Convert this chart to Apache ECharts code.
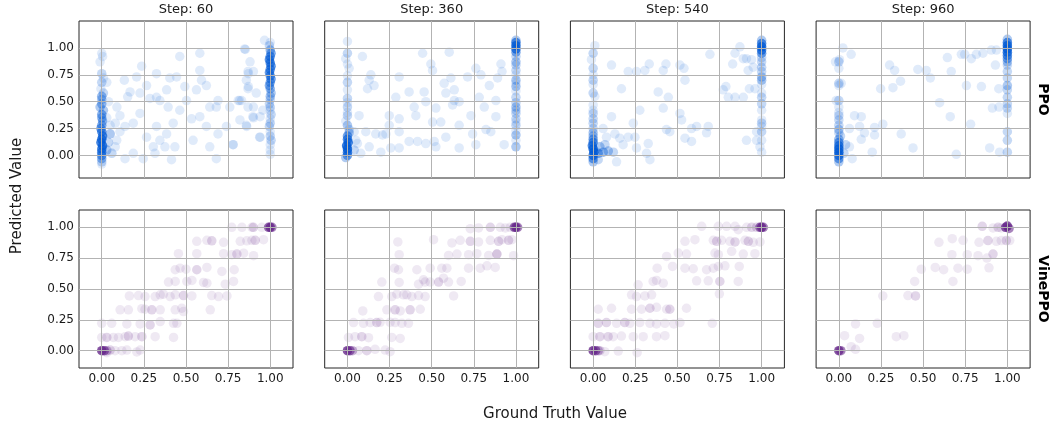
<!DOCTYPE html>
<html><head><meta charset="utf-8">
<script src="https://cdn.jsdelivr.net/npm/echarts@6/dist/echarts.min.js"></script>
<style>html,body{margin:0;padding:0;background:#fff}#c{width:1053px;height:429px}</style>
</head><body><div id="c"></div>
<script>
// ---- data: [groundTruth, predicted, multiplicity] ----
const stepTitles = ['Step: 60', 'Step: 360', 'Step: 540', 'Step: 960'];
const rowLabels = ['PPO', 'VinePPO'];
const xTicks = [0, 0.25, 0.5, 0.75, 1];
const yTicks = [0, 0.25, 0.5, 0.75, 1];

const ppo60 = [
 [0,0.95,1],[0.005,0.92,1],[-0.01,0.87,1],[0,0.76,2],[0.01,0.72,1],[0,0.68,2],[-0.005,0.62,1],[0.01,0.58,2],[0,0.55,4],[0,0.52,3],
 [0,0.48,4],[-0.01,0.45,3],[0.01,0.42,3],[0,0.38,5],[0,0.35,4],[0.005,0.32,4],[0,0.28,5],[-0.005,0.25,6],[0,0.22,8],[0.005,0.18,9],
 [0,0.15,10],[-0.005,0.12,10],[0.005,0.09,10],[0,0.06,9],[0,0.03,8],[0,0.0,6],[0,-0.03,4],[0,-0.06,2],[0,-0.08,1],
 [0.03,0.05,3],[0.04,0.12,2],[0.05,0.2,2],[0.06,0.02,2],[0.08,0.08,1],[0.05,0.28,1],[0.03,0.35,1],[0.04,0.5,1],[0.03,0.68,1],
 [0.237,0.83,1],[0.134,0.70,1],[0.207,0.73,1],[0.168,0.59,1],[0.154,0.545,1],[0.09,0.45,1],[0.108,0.37,1],[0.08,0.30,1],[0.138,0.27,1],
 [0.187,0.30,1],[0.227,0.39,1],[0.286,0.53,1],[0.325,0.76,1],[0.385,0.61,1],[0.404,0.72,1],[0.463,0.92,1],[0.444,0.73,1],[0.493,0.64,1],
 [0.503,0.51,1],[0.463,0.42,1],[0.424,0.30,1],[0.385,0.20,1],[0.345,0.14,1],[0.306,0.08,1],[0.266,0.17,1],[0.325,0.27,1],[0.375,0.08,1],
 [0.414,-0.04,1],[0.434,0.08,1],[0.542,0.14,1],[0.582,0.95,1],[0.582,0.79,1],[0.592,0.70,1],[0.562,0.61,1],[0.621,0.65,1],[0.582,0.36,1],
 [0.533,0.34,1],[0.641,0.45,1],[0.621,0.27,1],[0.68,0.45,1],[0.69,0.20,1],[0.69,0.51,1],[0.76,0.45,1],[0.74,0.27,1],[0.779,0.10,1],
 [0.68,-0.03,1],[0.641,0.08,1],[0.848,0.99,1],[0.868,0.78,1],[0.858,0.70,1],[0.868,0.62,1],[0.818,0.51,1],[0.868,0.45,1],[0.897,0.36,1],
 [0.858,0.28,1],[0.937,0.17,1],[0.917,0.58,1],[0.956,0.42,1],[0.966,1.07,1],[0.246,-0.03,1],[0.138,-0.03,1],[0.187,0.02,1],[0.316,0.02,1],
 [0.325,0.54,1],[0.227,0.58,1],[0.266,0.65,1],[0.345,0.51,1],[0.394,0.45,1],[0.089,0.14,1],[0.108,0.22,1],[0.05,0.2,1],
 [0.852,0.985,1],[0.88,0.87,1],[0.87,0.76,1],[0.9,0.78,1],[0.87,0.64,1],[0.81,0.51,1],[0.83,0.51,1],[0.90,0.45,1],[0.9,0.35,1],
 [0.82,0.33,1],[0.86,0.27,1],[0.94,0.17,1],[0.78,0.10,1],[0.94,0.36,1],
 [1,1.05,1],[0.995,1.02,2],[1,0.98,4],[1.005,0.95,5],[1,0.92,7],[0.995,0.89,8],[1,0.86,8],[1.005,0.83,7],[1,0.80,7],[0.995,0.77,7],
 [1,0.74,7],[1.005,0.71,6],[1,0.68,5],[0.995,0.65,5],[1,0.62,4],[1.005,0.58,3],[1,0.55,3],[1,0.52,2],[0.995,0.48,2],[1,0.45,2],
 [1,0.42,1],[1.005,0.38,2],[1,0.34,1],[1,0.30,2],[0.995,0.27,2],[1,0.22,1],[1,0.18,2],[1.005,0.14,2],[1,0.10,1],[1,0.05,1],[1,0.01,1]
];

const ppo360 = [
 [0,0.0,6],[0,0.03,9],[0,0.06,12],[-0.005,0.09,12],[0.005,0.12,10],[0,0.15,8],[0,0.18,6],[0.01,0.21,3],[-0.01,-0.02,3],
 [0,1.06,1],[0,0.95,2],[-0.01,0.9,1],[0,0.85,1],[0.01,0.81,1],[0,0.74,1],[0,0.68,2],[0,0.61,1],[0,0.53,2],[0,0.49,1],[0,0.45,2],
 [0,0.40,1],[0,0.37,2],[-0.01,0.32,1],[0,0.28,3],[0.01,0.24,2],
 [1,1.07,3],[1,1.05,8],[1,1.02,12],[1,0.99,10],[1,0.96,5],
 [1,0.92,2],[1,0.87,3],[1,0.84,2],[1,0.79,2],[1,0.75,1],[1,0.70,3],[1,0.67,1],[1,0.64,3],[1,0.6,1],[1,0.54,2],[1,0.49,2],[1,0.45,3],
 [1,0.42,2],[1,0.39,2],[1,0.34,2],[1,0.31,1],[1,0.28,2],[1,0.23,1],[1,0.19,3],[1,0.14,1],[1,0.08,3],
 [0.089,0.92,1],[0.129,0.70,1],[0.158,0.65,1],[0.139,0.75,1],[0.119,0.62,1],[0.307,0.73,1],[0.287,0.54,1],[0.248,0.37,1],[0.307,0.34,1],
 [0.366,0.59,1],[0.396,0.45,1],[0.406,0.37,1],[0.446,0.95,1],[0.455,0.59,1],[0.495,0.85,1],[0.505,0.79,1],[0.465,0.50,1],[0.505,0.31,1],
 [0.525,0.44,1],[0.554,0.31,1],[0.574,0.67,1],[0.584,0.58,1],[0.604,0.96,1],[0.614,0.72,1],[0.634,0.61,1],[0.634,0.51,1],[0.663,0.50,1],
 [0.624,0.47,1],[0.713,0.73,1],[0.733,0.37,1],[0.663,0.28,1],[0.743,0.20,1],[0.762,0.81,1],[0.792,0.75,1],[0.782,0.54,1],[0.812,0.45,1],
 [0.822,0.24,1],[0.851,0.22,1],[0.842,0.65,1],[0.881,0.51,1],[0.881,0.36,1],[0.891,0.72,1],[0.911,0.85,1],[0.917,0.78,1],[0.93,0.10,1],
 [0.04,0.22,1],[0.069,0.37,1],[0.059,0.11,1],[0.109,0.22,1],[0.129,0.08,1],[0.079,0.02,1],[0.168,0.20,1],[0.208,0.19,1],[0.228,0.20,1],
 [0.198,0.03,1],[0.248,0.28,1],[0.257,0.07,1],[0.307,0.07,1],[0.307,0.22,1],[0.366,0.13,1],[0.416,0.13,1],[0.465,0.11,1],[0.515,0.13,1],
 [0.525,0.08,1],[0.584,0.17,1],[0.663,0.07,1],[0.762,0.10,1],[0.04,0.05,2],[0.05,0.14,1]
];

const ppo540 = [
 [0,-0.06,3],[0,-0.03,6],[0,0.0,10],[0.005,0.03,12],[0,0.06,12],[-0.005,0.09,9],[0,0.12,7],[0,0.15,5],[0,0.18,3],
 [0.03,0.02,5],[0.06,0.03,4],[0.09,0.04,3],[0.12,0.03,2],[0.04,0.08,3],[0.07,0.1,2],[0.03,-0.04,2],
 [0.01,1.02,1],[0,0.95,2],[-0.01,0.89,1],[0,0.81,2],[0,0.75,1],[0,0.70,2],[0,0.66,1],[0,0.58,2],[0.01,0.55,1],[0,0.47,1],[0,0.42,1],
 [0,0.39,2],[0,0.34,2],[0,0.3,2],[0,0.25,2],[0,0.21,3],
 [1,1.07,3],[1,1.04,8],[1,1.01,12],[1,0.98,10],[1,0.95,6],
 [1,0.91,2],[1,0.87,2],[1,0.82,2],[1,0.78,2],[1,0.73,3],[1,0.70,3],[1,0.66,1],[1,0.58,1],[1,0.54,2],[1,0.48,2],[1,0.42,1],[1,0.33,1],
 [1,0.3,2],[1,0.27,1],[1,0.22,2],[1,0.14,1],[1,0.03,1],
 [0.109,0.84,1],[0.208,0.78,1],[0.257,0.78,1],[0.307,0.79,1],[0.333,0.85,1],[0.416,0.79,1],[0.432,0.85,1],[0.515,0.84,1],[0.539,0.81,1],
 [0.545,0.70,1],[0.693,0.94,1],[0.168,0.62,1],[0.386,0.59,1],[0.446,0.54,1],[0.277,0.42,1],[0.416,0.44,1],[0.515,0.39,1],[0.525,0.33,1],
 [0.109,0.36,1],[0.059,0.25,1],[0.079,0.17,1],[0.129,0.20,1],[0.158,0.16,1],[0.178,0.10,1],[0.208,0.17,1],[0.248,0.17,1],[0.238,0.30,1],
 [0.257,0.07,1],[0.317,0.02,1],[0.337,-0.04,1],[0.327,0.11,1],[0.139,-0.06,1],[0.435,0.24,1],[0.455,0.22,1],[0.545,0.16,1],[0.584,0.13,1],
 [0.584,0.25,1],[0.614,0.27,1],[0.683,0.27,1],[0.673,0.21,1],[0.772,0.61,1],[0.802,0.54,1],[0.842,0.54,1],[0.891,0.54,1],[0.927,0.62,1],
 [0.960,0.62,1],[0.871,1.01,1],[0.842,0.95,1],[0.891,0.90,1],[0.828,0.85,1],[0.92,0.79,1],[0.91,0.90,1],[0.94,0.89,1],[0.95,0.82,1],
 [0.788,0.64,1],[0.97,0.14,1],[0.91,0.14,1],[0.97,0.22,1],[0.99,0.08,1]
];

const ppo960 = [
 [0,-0.06,3],[0,-0.03,6],[0,0.0,10],[0,0.03,12],[0,0.06,12],[0,0.09,9],[0,0.12,6],[0,0.15,4],[0.01,0.18,2],
 [0,0.87,2],[0,0.81,1],[0,0.67,2],[0,0.65,1],[0,0.51,2],[0,0.45,1],[0,0.40,1],[0,0.37,2],[0,0.33,2],[0,0.28,2],[0,0.24,3],[0,0.21,2],
 [1,1.08,3],[1,1.05,8],[1,1.02,12],[1,0.99,12],[1,0.96,10],[1,0.93,7],[1,0.9,5],
 [1,0.87,3],[1,0.84,2],[1,0.78,2],[1,0.72,2],[1,0.65,3],[1,0.61,2],[1,0.54,2],[1,0.48,2],[1,0.44,2],[1,0.39,1],[1,0.22,2],[1,0.14,2],[1,0.03,2],
 [0.024,1.0,1],[0.073,0.94,1],[-0.02,0.87,1],[0.004,0.89,1],[0.301,0.84,1],[0.331,0.79,1],[0.469,0.80,1],[0.519,0.79,1],[0.543,0.72,1],
 [0.667,0.78,1],[0.644,0.91,1],[0.727,0.94,1],[0.747,0.94,1],[0.786,0.90,1],[0.816,0.94,1],[0.855,0.95,1],[0.905,0.98,1],[0.935,0.98,1],
 [0.757,0.65,1],[0.846,0.64,1],[0.248,0.62,1],[0.321,0.63,1],[0.366,0.69,1],[0.014,0.67,1],[-0.016,0.51,1],[0.093,0.37,1],[0.133,0.36,1],
 [0.123,0.27,1],[0.063,0.25,1],[0.212,0.26,1],[0.261,0.29,1],[0.152,0.21,1],[0.133,0.15,1],[0.212,0.19,1],[0.370,0.20,1],[0.440,0.07,1],
 [0.198,0.03,1],[0.079,-0.03,1],[0.063,0.08,1],[0.598,0.49,1],[0.661,0.36,1],[0.782,0.29,1],[0.697,0.01,1],[0.911,0.44,1],[0.895,0.07,1],
 [0.954,0.03,1],[0.929,0.84,1],[0.949,0.62,1],[0.95,0.45,1],[0.04,0.1,2],[0.03,0.02,2]
];

const vine60 = [
 [0,0,15],[0.015,0,10],[0.03,0,4],[0.99,1,10],[1,1,15],[1.01,1,8],
 [0.772,1.0,1],[0.832,1.0,1],[0.891,1.0,1],[0.9,1.0,2],[0.95,1.0,1],
 [0.564,0.886,1],[0.624,0.894,1],[0.653,0.89,2],[0.723,0.878,1],[0.822,0.886,1],[0.861,0.89,1],[0.891,0.894,1],[0.911,0.894,2],[0.96,0.9,1],
 [0.455,0.786,1],[0.564,0.786,1],[0.723,0.786,1],[0.772,0.778,1],[0.802,0.783,2],[0.842,0.79,1],[0.901,0.77,1],
 [0.436,0.656,1],[0.465,0.669,1],[0.5,0.661,1],[0.564,0.656,2],[0.624,0.675,1],[0.713,0.642,1],[0.786,0.656,1],
 [0.396,0.556,1],[0.436,0.561,1],[0.505,0.561,1],[0.535,0.569,1],[0.604,0.553,1],[0.624,0.547,1],[0.733,0.539,1],[0.782,0.561,1],
 [0.164,0.444,1],[0.218,0.447,1],[0.257,0.439,1],[0.317,0.439,1],[0.347,0.453,1],[0.366,0.458,1],[0.406,0.439,1],[0.436,0.453,1],
 [0.485,0.447,2],[0.535,0.444,1],[0.653,0.447,1],[0.693,0.439,1],[0.743,0.444,1],
 [0.109,0.331,1],[0.158,0.331,1],[0.238,0.341,1],[0.257,0.336,1],[0.297,0.331,2],[0.347,0.331,1],[0.436,0.331,1],[0.475,0.344,1],
 [0.485,0.317,1],[0.644,0.331,1],
 [0,0.222,1],[0.059,0.222,1],[0.149,0.217,1],[0.228,0.217,1],[0.287,0.209,2],[0.347,0.236,1],[0.426,0.222,1],[0.446,0.222,1],
 [0,0.108,1],[0.03,0.108,2],[0.069,0.108,1],[0.099,0.108,1],[0.139,0.114,1],[0.158,0.119,2],[0.198,0.114,1],[0.238,0.114,2],
 [0.317,0.114,1],[0.426,0.108,1],
 [0.05,0.005,2],[0.079,0,1],[0.119,0,1],[0.149,0.005,1],[0.208,-0.01,1],[0.228,0.005,1],[0.03,-0.016,1]
];

const vine360 = [
 [0,0,15],[0.015,0,10],[0.03,0,4],[0.99,1,10],[1,1,15],[1.01,1,8],
 [0.729,0.989,1],[0.778,0.995,1],[0.848,1.0,2],[0.907,1.0,1],[0.937,0.995,1],[0.966,1.0,1],
 [0.299,0.881,1],[0.511,0.9,1],[0.62,0.873,1],[0.669,0.894,1],[0.729,0.886,2],[0.778,0.881,1],[0.848,0.894,1],[0.897,0.886,2],
 [0.917,0.9,1],[0.956,0.894,2],[0.976,0.9,1],
 [0.307,0.778,1],[0.6,0.772,1],[0.65,0.783,1],[0.719,0.778,1],[0.768,0.786,1],[0.838,0.772,1],[0.887,0.783,3],[0.986,0.77,1],
 [0.279,0.669,1],[0.303,0.656,1],[0.412,0.656,1],[0.491,0.669,1],[0.560,0.669,1],[0.590,0.669,1],[0.719,0.669,1],[0.788,0.669,1],
 [0.828,0.688,1],[0.877,0.675,1],
 [0.204,0.556,1],[0.307,0.553,1],[0.422,0.539,1],[0.451,0.575,1],[0.461,0.556,1],[0.491,0.556,1],[0.541,0.556,2],[0.570,0.588,1],
 [0.600,0.556,1],[0.675,0.561,1],
 [0.184,0.439,1],[0.263,0.439,1],[0.293,0.458,1],[0.333,0.453,1],[0.352,0.453,1],[0.382,0.439,1],[0.422,0.447,1],[0.461,0.439,1],
 [0.630,0.444,1],
 [0.091,0.322,1],[0.234,0.331,1],[0.283,0.331,2],[0.313,0.322,1],[0.372,0.331,2],[0.432,0.336,1],
 [0.036,0.228,1],[0.095,0.222,1],[0.135,0.228,1],[0.174,0.228,2],[0.194,0.23,1],[0.253,0.23,1],[0.283,0.228,1],[0.323,0.222,1],[0.362,0.222,1],
 [0.006,0.108,1],[0.045,0.114,1],[0.085,0.114,2],[0.125,0.106,1],[0.263,0.108,1],[0.313,0.1,1],
 [0.065,0,1],[0.115,0,2],[0.164,0.011,1],[0.224,0.005,1],[0.253,-0.008,1]
];

const vine540 = [
 [0,0,15],[0.015,0,10],[0.03,0,4],[0.99,1,10],[1,1,15],[1.01,1,8],
 [0.644,1.008,1],[0.743,1.008,1],[0.792,1.008,1],[0.842,1.008,1],[0.861,0.981,1],[0.911,1.0,1],[0.941,1.0,2],[0.970,1.0,2],
 [0.545,0.886,1],[0.604,0.9,1],[0.713,0.894,1],[0.733,0.886,2],[0.762,0.894,1],[0.812,0.886,1],[0.842,0.881,2],[0.901,0.894,1],
 [0.921,0.886,2],[0.950,0.878,1],[0.990,0.881,1],
 [0.436,0.764,1],[0.505,0.791,1],[0.554,0.783,1],[0.723,0.791,1],[0.743,0.778,1],[0.822,0.805,1],[0.891,0.783,1],[0.960,0.786,1],
 [0.380,0.669,1],[0.471,0.683,1],[0.545,0.669,1],[0.594,0.664,1],[0.673,0.656,1],[0.713,0.669,1],[0.743,0.683,1],[0.782,0.688,1],
 [0.867,0.683,1],
 [0.267,0.534,1],[0.356,0.561,1],[0.376,0.569,1],[0.416,0.547,1],[0.614,0.566,1],[0.683,0.566,1],[0.752,0.561,2],[0.861,0.561,1],
 [0.749,0.461,1],[0.228,0.453,1],[0.257,0.439,1],[0.307,0.444,1],[0.347,0.453,1],
 [0.030,0.336,1],[0.109,0.344,1],[0.228,0.336,1],[0.287,0.336,1],[0.337,0.344,2],[0.376,0.352,1],[0.436,0.336,1],[0.455,0.336,2],
 [0.554,0.344,1],
 [0.030,0.222,2],[0.079,0.228,2],[0.139,0.222,1],[0.188,0.228,2],[0.218,0.222,1],[0.277,0.228,1],[0.337,0.222,1],[0.376,0.217,1],
 [0.426,0.222,1],[0.479,0.217,1],[0.515,0.228,1],[0.707,0.222,1],
 [0,0.114,1],[0.040,0.114,2],[0.089,0.114,2],[0.119,0.114,1],[0.168,0.119,1],[0.238,0.114,1],[0.297,0.114,1],[0.376,0.114,1],[0.426,0.122,1],
 [0.040,0,2],[0.069,-0.008,1],[0.149,-0.003,1],[0.261,-0.016,1]
];

const vine960 = [
 [0,0,15],[0.012,0,8],[0.99,1.0,14],[1,1.01,14],[1.01,0.99,8],
 [0.851,1.008,2],[0.915,0.995,1],[0.945,1.0,2],[0.964,0.995,1],
 [0.594,0.878,1],[0.673,0.908,1],[0.737,0.894,1],[0.832,0.878,1],[0.885,0.892,2],[0.935,0.886,1],[0.964,0.892,1],[0.994,0.892,2],[1.014,0.892,1],
 [0.671,0.778,1],[0.762,0.778,1],[0.826,0.770,1],[0.879,0.751,1],[0.915,0.783,2],
 [0.489,0.661,1],[0.572,0.675,1],[0.622,0.656,1],[0.707,0.669,1],[0.762,0.661,1],[0.891,0.672,1],
 [0.450,0.561,1],[0.677,0.561,1],
 [0.261,0.444,1],[0.410,0.447,1],[0.455,0.444,2],
 [0.099,0.217,1],[0.228,0.222,1],
 [0.034,0.122,1],[0.123,0.100,1],[0.341,0.114,1],[0.386,0.122,1],
 [0.073,0.033,1],[0.099,0.011,1]
];

const panels = [[ppo60, ppo360, ppo540, ppo960], [vine60, vine360, vine540, vine960]];

// ---- styling / layout ----
const FONT = 'DejaVu Sans';
const rowRGB = [[0, 89, 212], [102, 39, 138]];
const rowAlpha = [0.12, 0.10];
const rowYRange = [[-0.21, 1.25], [-0.14, 1.14]];
const xRange = [-0.135, 1.135];
const gridLeft0 = 79, colStep = 245.7, gW = 214;
const rowTop = [21, 210], rowH = [157, 158];

function rgba(rgb, a) { return 'rgba(' + rgb[0] + ',' + rgb[1] + ',' + rgb[2] + ',' + a.toFixed(4) + ')'; }

const grids = [], xAxes = [], yAxes = [], series = [], graphics = [];
let gi = 0;
for (let r = 0; r < 2; r++) {
  for (let c = 0; c < 4; c++) {
    grids.push({left: gridLeft0 + c * colStep, top: rowTop[r], width: gW, height: rowH[r],
      show: true, borderColor: '#262626', borderWidth: 1, backgroundColor: 'transparent'});
    const showX = r === 1, showY = c === 0;
    xAxes.push({type: 'value', gridIndex: gi, min: xRange[0], max: xRange[1],
      axisLine: {show: false}, splitLine: {show: false},
      axisTick: {show: showX, customValues: xTicks, length: 4, lineStyle: {color: '#262626'}},
      axisLabel: {show: showX, customValues: xTicks, formatter: v => v.toFixed(2), fontFamily: FONT, fontSize: 12, color: '#1a1a1a', margin: 5}});
    yAxes.push({type: 'value', gridIndex: gi, min: rowYRange[r][0], max: rowYRange[r][1],
      axisLine: {show: false}, splitLine: {show: false},
      axisTick: {show: showY, customValues: yTicks, length: 4, lineStyle: {color: '#262626'}},
      axisLabel: {show: showY, customValues: yTicks, formatter: v => v.toFixed(2), fontFamily: FONT, fontSize: 12, color: '#1a1a1a', margin: 5}});
    // grid lines
    series.push({type: 'scatter', xAxisIndex: gi, yAxisIndex: gi, data: [], z: 1, silent: true,
      markLine: {silent: true, symbol: ['none', 'none'], animation: false, label: {show: false},
        lineStyle: {color: '#b3b3b3', width: 1, type: 'solid'},
        emphasis: {disabled: true},
        data: xTicks.map(v => ({xAxis: v})).concat(yTicks.map(v => ({yAxis: v})))}});
    const a = rowAlpha[r], rgb = rowRGB[r];
    series.push({type: 'scatter', xAxisIndex: gi, yAxisIndex: gi, z: 2, silent: true, symbolSize: 9.5,
      animation: false, emphasis: {disabled: true},
      data: panels[r][c].map(p => ({value: [p[0], p[1]],
        itemStyle: {color: rgba(rgb, 1 - Math.pow(1 - a, p[2])), opacity: 1, borderWidth: 0}})),
      itemStyle: {opacity: 1, borderWidth: 0}});
    gi++;
  }
}
for (let c = 0; c < 4; c++) {
  graphics.push({type: 'text', x: gridLeft0 + c * colStep + gW / 2, y: 10,
    style: {text: stepTitles[c], font: '13px "' + FONT + '"', fill: '#1a1a1a', align: 'center', verticalAlign: 'middle'}});
}
graphics.push({type: 'text', x: 1043, y: rowTop[0] + rowH[0] / 2, rotation: -Math.PI / 2,
  style: {text: rowLabels[0], font: 'bold 14px "' + FONT + '"', fill: '#000', align: 'center', verticalAlign: 'middle'}});
graphics.push({type: 'text', x: 1043, y: rowTop[1] + rowH[1] / 2, rotation: -Math.PI / 2,
  style: {text: rowLabels[1], font: 'bold 14px "' + FONT + '"', fill: '#000', align: 'center', verticalAlign: 'middle'}});
graphics.push({type: 'text', x: 17, y: 196, rotation: Math.PI / 2,
  style: {text: 'Predicted Value', font: '15px "' + FONT + '"', fill: '#1a1a1a', align: 'center', verticalAlign: 'middle'}});
graphics.push({type: 'text', x: 555, y: 414,
  style: {text: 'Ground Truth Value', font: '15px "' + FONT + '"', fill: '#1a1a1a', align: 'center', verticalAlign: 'middle'}});

const chart = echarts.init(document.getElementById('c'), null, {renderer: 'canvas'});
chart.setOption({animation: false, backgroundColor: '#fff', grid: grids, xAxis: xAxes, yAxis: yAxes, series: series, graphic: graphics});
</script></body></html>
